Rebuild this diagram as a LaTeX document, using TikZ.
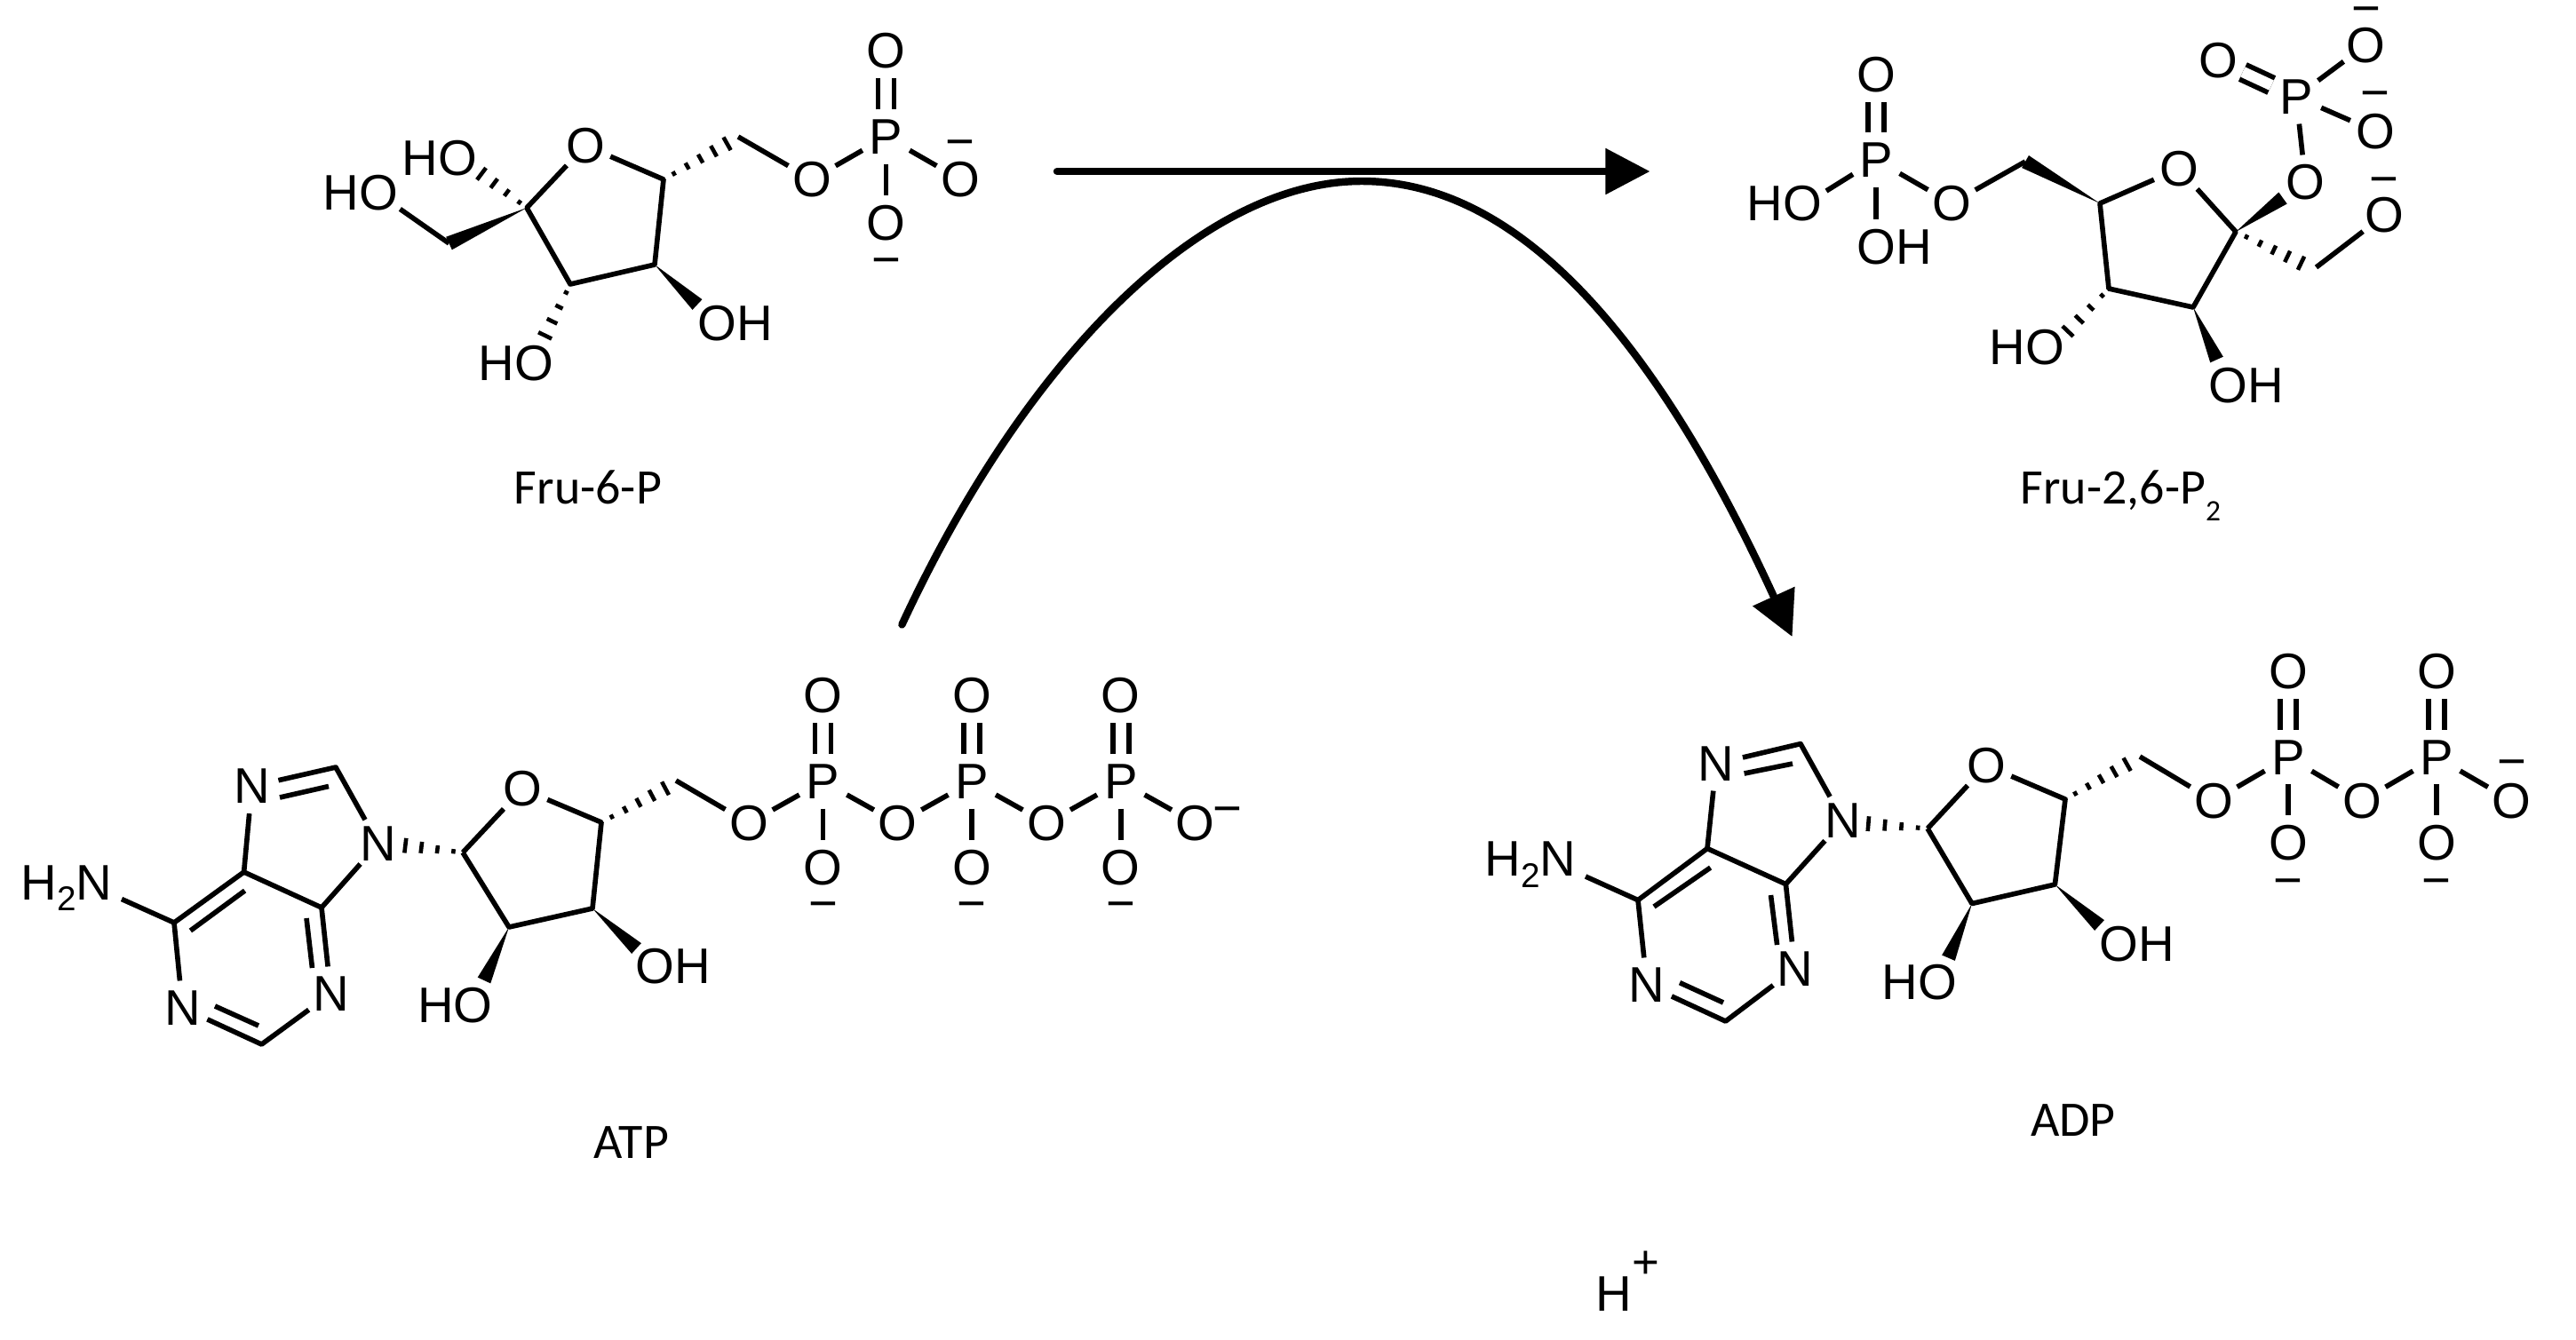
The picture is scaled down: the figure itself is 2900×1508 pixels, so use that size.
\documentclass[tikz,border=0pt]{standalone}
\usepackage{fontspec}
\setmainfont{Liberation Sans}
\newfontfamily\capfont{Carlito}
\usetikzlibrary{calc,arrows.meta}

\tikzset{
  atomfont/.style={font=\fontsize{16}{18}\selectfont},
  atom/.style={circle,inner sep=0pt,minimum size=0.6cm,atomfont},
  group/.style={inner sep=0.1cm,atomfont},
  charge/.style={inner sep=0pt,anchor=base,yshift=-0.18cm,atomfont},
  caption/.style={inner sep=0pt,anchor=base,font=\capfont\fontsize{15.9}{18}\selectfont},
  bond/.style={line width=1.6pt,line join=round},
  dbond/.style={line width=1.6pt,double,double distance=3.5pt},
  hashline/.style={line width=1.3pt},
  bigarrow/.style={line width=2.4pt,line cap=round,-{Triangle[length=0.5cm,width=0.5cm]}}
}

% narrow end, wide end, number of gaps
\newcommand{\hashbond}[3]{
  \foreach \hn in {0,...,#3}{
    \pgfmathsetmacro\hpos{0.16+0.82*\hn/#3}
    \pgfmathsetmacro\hwid{0.015+0.07*\hpos}
    \draw[hashline] ($(#1)!\hpos!(#2)!\hwid cm!90:(#2)$) -- ($(#1)!\hpos!(#2)!\hwid cm!-90:(#2)$);
  }
}
\newcommand{\wedgebond}[2]{
  \fill (#1) -- ($(#2)!0.08cm!90:(#1)$) -- ($(#2)!0.08cm!-90:(#1)$) -- cycle;
}

\begin{document}
\begin{tikzpicture}[x=0.01cm,y=-0.01cm]
  \useasboundingbox (0,0) rectangle (2900,1508);

  % Fru-6-P
  \path (659,164) node[atom] (fO) {O};
  \coordinate (fC5) at (747,202);
  \coordinate (fC4) at (737,298);
  \coordinate (fC3) at (642,320);
  \coordinate (fC2) at (593,234);
  \coordinate (fC1) at (505.5,274);
  \coordinate (fC6) at (831,154);
  \coordinate (fH1) at (450.4,235.4);
  \coordinate (fW3) at (785,343);
  \coordinate (fH3) at (613,379);
  \coordinate (fH2) at (541,195);
  \coordinate (fH6) at (820,161);
  \path (406,217) node[group] (fHOa) {HO};
  \path (495,178) node[group] (fHOb) {HO};
  \path (581,409) node[group] (fHOc) {HO};
  \path (828,364) node[group] (fOHd) {OH};
  \path (914,202) node[atom] (fOl) {O};
  \path (997.5,154) node[atom] (fP) {P};
  \path (997.5,57) node[atom] (fOt) {O};
  \path (997.5,251) node[atom] (fOb) {O};
  \path (1081,202) node[atom] (fOr) {O};
  \path (997.5,293.5) node[charge] (fCb) {−};
  \path (1081,160) node[charge] (fCr) {−};
  \path (662,567) node[caption] (frusix) {Fru-6-P};

  \draw[bond] (fO) -- (fC5) -- (fC4) -- (fC3) -- (fC2) -- (fO);
  \draw[bond] (fC1) -- (fH1);
  \draw[bond] (fC6) -- (fOl);
  \draw[bond] (fOl) -- (fP);
  \draw[dbond] (fP) -- (fOt);
  \draw[bond] (fP) -- (fOb);
  \draw[bond] (fP) -- (fOr);
  \wedgebond{fC2}{fC1}
  \wedgebond{fC4}{fW3}
  \hashbond{fC2}{fH2}{3}
  \hashbond{fC3}{fH3}{3}
  \hashbond{fC5}{fH6}{4}

  % Fru-2,6-P2
  \path (2112,180) node[atom] (gP) {P};
  \path (2112,84) node[atom] (gOt) {O};
  \path (2009,229) node[group] (gHOa) {HO};
  \path (2133,278) node[group] (gOHb) {OH};
  \path (2197,229) node[atom] (gOl) {O};
  \coordinate (gH1) at (2056,215);
  \coordinate (gC6) at (2280,182);
  \coordinate (gC5) at (2364,229);
  \path (2453,190) node[atom] (gO) {O};
  \coordinate (gC2) at (2517,261);
  \coordinate (gC3) at (2469,346);
  \coordinate (gC4) at (2374,325);
  \path (2595.5,205) node[atom] (gOp) {O};
  \coordinate (gW2) at (2570,223);
  \path (2585,109) node[atom] (gQ) {P};
  \path (2497,68) node[atom] (gOu) {O};
  \path (2663,51) node[atom] (gOv) {O};
  \path (2674,148) node[atom] (gOw) {O};
  \coordinate (gC1) at (2592,297);
  \coordinate (gC1b) at (2607.5,301);
  \path (2684.5,242) node[atom] (gOx) {O};
  \path (2663.5,10) node[charge] (gCv) {−};
  \path (2674,105) node[charge] (gCw) {−};
  \path (2684,202) node[charge] (gCx) {−};
  \coordinate (gH4) at (2327,374);
  \coordinate (gW3) at (2495.5,405);
  \path (2282,391) node[group] (gHOc) {HO};
  \path (2529,434) node[group] (gOHd) {OH};
  \path (2274,567) node[caption,anchor=base west] (frutwo) {Fru-2,6-P\raisebox{-5.5pt}{\fontsize{9.5}{9.5}\selectfont 2}};

  \draw[dbond] (gP) -- (gOt);
  \draw[bond] (gH1) -- (gP);
  \draw[bond] (gP) -- (gOHb.north -| gP);
  \draw[bond] (gP) -- (gOl);
  \draw[bond] (gOl) -- (gC6);
  \wedgebond{gC5}{gC6}
  \draw[bond] (gO) -- (gC5) -- (gC4) -- (gC3) -- (gC2) -- (gO);
  \wedgebond{gC2}{gW2}
  \draw[bond] (gOp) -- (gQ);
  \draw[dbond] (gQ) -- (gOu);
  \draw[bond] (gQ) -- (gOv);
  \draw[bond] (gQ) -- (gOw);
  \hashbond{gC2}{gC1}{4}
  \draw[bond] (gC1b) -- (gOx);
  \hashbond{gC4}{gH4}{3}
  \wedgebond{gC3}{gW3}

  % ATP
  \path (283.5,885.5) node[atom] (aN7) {N};
  \coordinate (aC8) at (378,864);
  \path (426,950) node[atom] (aN9) {N};
  \coordinate (aC4) at (362,1022);
  \coordinate (aC5) at (274.6,982);
  \coordinate (aC6) at (196,1039);
  \path (205.5,1135) node[atom] (aN1) {N};
  \coordinate (aC2) at (294.5,1176);
  \path (372.4,1119) node[atom] (aN3) {N};
  \path (75,1000) node[group] (aNH) {H\raisebox{-3.5pt}{\fontsize{11}{11}\selectfont 2}N};
  \coordinate (aH6) at (137,1012.5);
  \coordinate (aI7a) at (315,898);
  \coordinate (aI7b) at (370,885.5);
  \coordinate (aI5a) at (275.6,1003);
  \coordinate (aI5b) at (214.4,1048);
  \coordinate (aI1a) at (242,1133);
  \coordinate (aI1b) at (291,1155);
  \coordinate (aI3a) at (345,1034);
  \coordinate (aI3b) at (351.5,1090);
  \coordinate (aS1) at (521,960);
  \path (588,888.5) node[atom] (aSO) {O};
  \coordinate (aS4) at (677,926);
  \coordinate (aS3) at (667,1023);
  \coordinate (aS2) at (573,1044);
  \coordinate (aCH) at (761,879);
  \coordinate (aHn) at (455,952);
  \coordinate (aH5) at (750.5,887);
  \coordinate (aW3) at (716.5,1068);
  \coordinate (aW2) at (545,1104);
  \path (758,1088) node[group] (aOH) {OH};
  \path (512.5,1132) node[group] (aHO) {HO};
  \path (711,1304.5) node[caption] (atp) {ATP};

  \draw[bond] (aH6) -- (aC6);
  \draw[bond] (aN7) -- (aC8) -- (aN9);
  \draw[bond] (aN7) -- (aC5) -- (aC4) -- (aN9);
  \draw[bond] (aC5) -- (aC6) -- (aN1) -- (aC2) -- (aN3) -- (aC4);
  \draw[bond] (aI7a) -- (aI7b);
  \draw[bond] (aI5a) -- (aI5b);
  \draw[bond] (aI1a) -- (aI1b);
  \draw[bond] (aI3a) -- (aI3b);
  \draw[bond] (aS1) -- (aSO) -- (aS4) -- (aS3) -- (aS2) -- (aS1);
  \hashbond{aS1}{aHn}{3}
  \hashbond{aS4}{aH5}{4}
  \wedgebond{aS3}{aW3}
  \wedgebond{aS2}{aW2}
  \foreach \i/\px in {1/926.6,2/1094.2,3/1261.8}{
    \path (\px,880) node[atom] (aP\i) {P};
    \path (\px-83.6,927) node[atom] (aL\i) {O};
    \path (\px,783) node[atom] (aT\i) {O};
    \path (\px,977) node[atom] (aB\i) {O};
    \path (\px,1018) node[charge] (aM\i) {−};
    \draw[bond] (aL\i) -- (aP\i);
    \draw[dbond] (aP\i) -- (aT\i);
    \draw[bond] (aP\i) -- (aB\i);
  }
  \path (1345.8,927) node[atom] (aE) {O};
  \path (1382,911) node[charge] (aEm) {−};
  \draw[bond] (aCH) -- (aL1);
  \draw[bond] (aP1) -- (aL2);
  \draw[bond] (aP2) -- (aL3);
  \draw[bond] (aP3) -- (aE);

  % ADP
  \path (1932,860) node[atom] (dN7) {N};
  \coordinate (dC8) at (2027,837.6);
  \path (2075,924) node[atom] (dN9) {N};
  \coordinate (dC4) at (2010.4,995.6);
  \coordinate (dC5) at (1922,955.5);
  \coordinate (dC6) at (1844,1013.6);
  \path (1854,1109) node[atom] (dN1) {N};
  \coordinate (dC2) at (1942.6,1150);
  \path (2020.7,1091) node[atom] (dN3) {N};
  \path (1723,973.5) node[group] (dNH) {H\raisebox{-3.5pt}{\fontsize{11}{11}\selectfont 2}N};
  \coordinate (dH6) at (1785,987);
  \coordinate (dI7a) at (1963.6,871);
  \coordinate (dI7b) at (2018,860);
  \coordinate (dI5a) at (1925.6,977);
  \coordinate (dI5b) at (1862,1021);
  \coordinate (dI1a) at (1891,1106.6);
  \coordinate (dI1b) at (1940,1129);
  \coordinate (dI3a) at (1993.5,1008);
  \coordinate (dI3b) at (2000.6,1064);
  \coordinate (dS1) at (2170,933);
  \path (2236,862) node[atom] (dSO) {O};
  \coordinate (dS4) at (2325,900);
  \coordinate (dS3) at (2313.4,996);
  \coordinate (dS2) at (2220,1017.5);
  \coordinate (dCH) at (2409,852);
  \coordinate (dHn) at (2102,927.5);
  \coordinate (dH5) at (2396,860);
  \coordinate (dW3) at (2363.5,1042);
  \coordinate (dW2) at (2193.5,1078.7);
  \path (2406,1062.7) node[group] (dOH) {OH};
  \path (2161,1106.6) node[group] (dHO) {HO};
  \path (2334,1279.6) node[caption] (adp) {ADP};

  \draw[bond] (dH6) -- (dC6);
  \draw[bond] (dN7) -- (dC8) -- (dN9);
  \draw[bond] (dN7) -- (dC5) -- (dC4) -- (dN9);
  \draw[bond] (dC5) -- (dC6) -- (dN1) -- (dC2) -- (dN3) -- (dC4);
  \draw[bond] (dI7a) -- (dI7b);
  \draw[bond] (dI5a) -- (dI5b);
  \draw[bond] (dI1a) -- (dI1b);
  \draw[bond] (dI3a) -- (dI3b);
  \draw[bond] (dS1) -- (dSO) -- (dS4) -- (dS3) -- (dS2) -- (dS1);
  \hashbond{dS1}{dHn}{3}
  \hashbond{dS4}{dH5}{4}
  \wedgebond{dS3}{dW3}
  \wedgebond{dS2}{dW2}
  \foreach \i/\px in {1/2576,2/2743}{
    \path (\px,852.7) node[atom] (dP\i) {P};
    \path (\px-84,901.7) node[atom] (dL\i) {O};
    \path (\px,756) node[atom] (dT\i) {O};
    \path (\px,949) node[atom] (dB\i) {O};
    \path (\px,992) node[charge] (dM\i) {−};
    \draw[bond] (dL\i) -- (dP\i);
    \draw[dbond] (dP\i) -- (dT\i);
    \draw[bond] (dP\i) -- (dB\i);
  }
  \path (2827.4,901.7) node[atom] (dE) {O};
  \path (2827.5,858) node[charge] (dEm) {−};
  \draw[bond] (dCH) -- (dL1);
  \draw[bond] (dP1) -- (dL2);
  \draw[bond] (dP2) -- (dE);

  % arrows
  \coordinate (rstart) at (1190,193);
  \coordinate (rend) at (1857.5,193);
  \coordinate (cstart) at (1015.4,703.4);
  \coordinate (ctop) at (1533,204);
  \coordinate (cend) at (2017.6,717);
  \draw[bigarrow] (rstart) -- (rend);
  \draw[bigarrow] (cstart) .. controls (1154.6,403) and (1353,204) .. (ctop)
    .. controls (1723,204) and (1876,408) .. (cend);

  \path (1796,1476) node[group,inner sep=0pt,anchor=base west] (proton) {H\raisebox{10.5pt}{\fontsize{15}{15}\selectfont +}};
\end{tikzpicture}
\end{document}
